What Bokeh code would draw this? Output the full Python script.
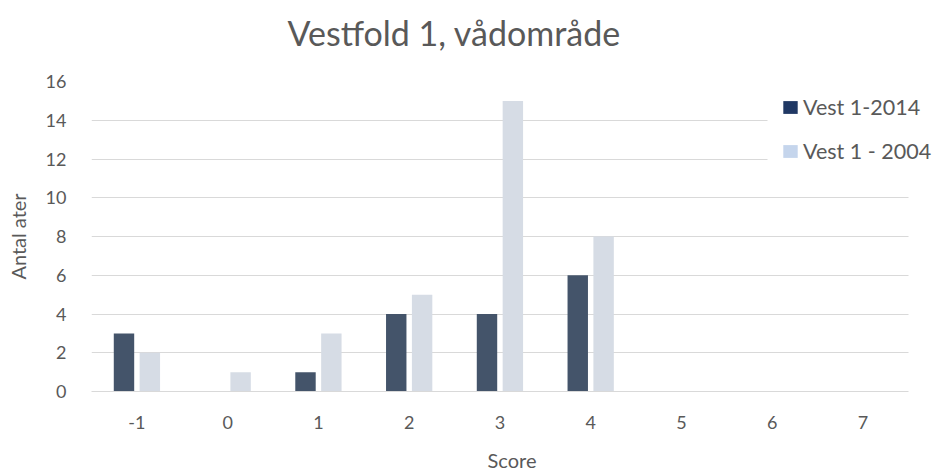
from bokeh.plotting import figure
from bokeh.models import ColumnDataSource, Range1d, Legend, LegendItem, Title, Grid, FixedTicker
from bokeh.transform import dodge
from bokeh.embed import file_html
from bokeh.resources import INLINE

categories = [-1, 0, 1, 2, 3, 4, 5, 6, 7]
vest_2014 = [3, 0, 1, 4, 4, 6, 0, 0, 0]
vest_2004 = [2, 1, 3, 5, 15, 8, 0, 0, 0]
y_ticks = [0, 2, 4, 6, 8, 10, 12, 14, 16]
series_names = ["Vest 1-2014", "Vest 1 - 2004"]
chart_title = "Vestfold 1, vådområde"

FONT = "Lato"
GRAY = "#595959"

src = ColumnDataSource(dict(cat=categories, a=vest_2014, b=vest_2004))

# plot area spans -1.5 .. 7.5; extra room on the right is for the overlapping legend
x_lo, x_hi, x_room = categories[0] - 0.5, categories[-1] + 0.5, 0.267
legend_left = 5.95  # where the legend box starts (upper gridlines stop there)

p = figure(width=932, height=474, x_range=Range1d(x_lo, x_hi + x_room),
           y_range=(0, 16), output_backend="svg", toolbar_location=None,
           min_border_left=91, min_border_right=0, min_border_top=81, min_border_bottom=75)
p.outline_line_color = None
p.title = None
# small blank spacer between plot area and title, then the title itself
p.add_layout(Title(text=" ", text_font=FONT, text_font_size="10px", standoff=15), "above")
p.add_layout(Title(text=chart_title, align="left", offset=196,
                   text_font=FONT, text_font_size="34px", text_font_style="normal",
                   text_color=GRAY, standoff=0), "above")

r1 = p.vbar(x=dodge("cat", -0.142), top="a", width=0.225, source=src,
            fill_color="#44546A", line_color=None)
r2 = p.vbar(x=dodge("cat", 0.143), top="b", width=0.225, source=src,
            fill_color="#D6DCE5", line_color=None)

# zero-width proxies carrying the legend swatch colours
e1 = p.vbar(x=dodge("cat", -0.142), top="a", width=0, source=src,
            fill_color="#203864", line_color=None)
e2 = p.vbar(x=dodge("cat", 0.143), top="b", width=0, source=src,
            fill_color="#C5D5EC", line_color=None)

legend = Legend(items=[LegendItem(label=series_names[0], renderers=[e1]),
                       LegendItem(label=series_names[1], renderers=[e2])],
                location=(690, 227), orientation="vertical",
                padding=26, margin=0, spacing=18,
                glyph_width=18, glyph_height=16, label_height=20, label_standoff=4,
                label_text_font=FONT, label_text_font_size="21.5px", label_text_color=GRAY,
                background_fill_alpha=0.0, border_line_color=None)
p.add_layout(legend, "center")

p.yaxis.ticker = y_ticks
p.xaxis.ticker = categories
p.xaxis.major_label_overrides = {c: str(c) for c in categories}

p.ygrid.ticker = FixedTicker(ticks=[t for t in y_ticks if t <= 10])
p.ygrid.grid_line_color = "#D9D9D9"
p.ygrid.grid_line_width = 1
p.ygrid.cross_bounds = (x_lo, x_hi)
p.xgrid.grid_line_color = None
upper_grid = Grid(dimension=1, ticker=FixedTicker(ticks=[t for t in y_ticks if t > 10]),
                  grid_line_color="#D9D9D9", grid_line_width=1,
                  cross_bounds=(x_lo, legend_left))
p.add_layout(upper_grid)

p.yaxis.axis_line_color = None
p.yaxis.major_tick_line_color = None
p.yaxis.minor_tick_line_color = None
p.yaxis.major_label_standoff = 19
p.yaxis.axis_label = "Antal ater"
p.yaxis.axis_label_standoff = 13

p.xaxis.bounds = (x_lo, x_hi)
p.xaxis.axis_line_color = "#D9D9D9"
p.xaxis.axis_line_width = 1
p.xaxis.major_tick_line_color = None
p.xaxis.minor_tick_line_color = None
p.xaxis.major_label_standoff = 18
p.xaxis.axis_label = "Score"
p.xaxis.axis_label_standoff = 16

for ax in (p.xaxis, p.yaxis):
    ax.major_label_text_font = FONT
    ax.major_label_text_font_size = "18px"
    ax.major_label_text_color = GRAY
    ax.axis_label_text_font = FONT
    ax.axis_label_text_font_size = "20px"
    ax.axis_label_text_font_style = "normal"
    ax.axis_label_text_color = GRAY

open("out.html", "w").write(file_html(p, INLINE))
